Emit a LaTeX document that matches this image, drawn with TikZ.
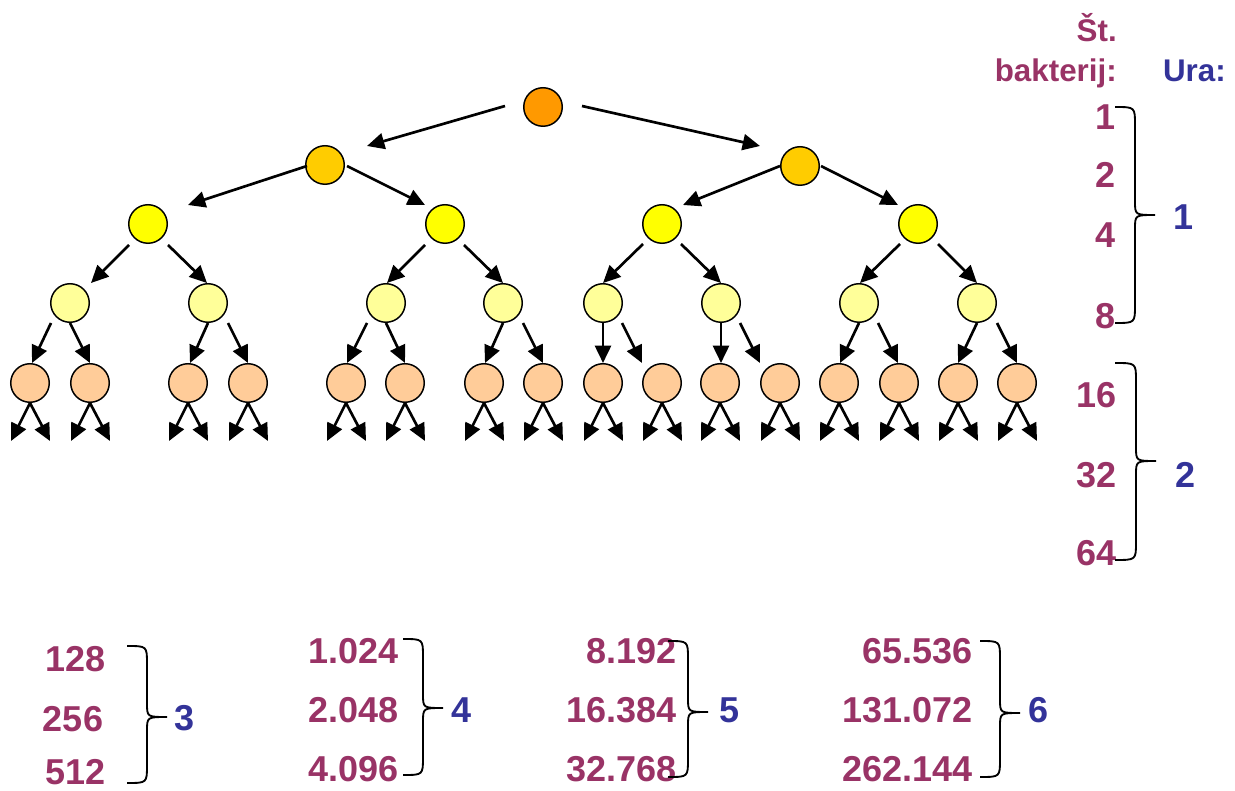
\documentclass[tikz,border=0pt]{standalone}
\usepackage{fontspec}
\setmainfont{Liberation Sans}
\usetikzlibrary{arrows.meta,calc}
\definecolor{numcol}{HTML}{993366}
\definecolor{hourcol}{HTML}{333399}
\definecolor{c0}{HTML}{FF9900}
\definecolor{c1}{HTML}{FFCC00}
\definecolor{c2}{HTML}{FFFF00}
\definecolor{c3}{HTML}{FFFF99}
\definecolor{c4}{HTML}{FFCC99}
% curly brace: x of ends, x of spine, x of tip, y top, y tip, y bottom
\newcommand\curlybrace[6]{%
  \draw[bracestyle] (#1,#4) .. controls (#2,#4) and (#2,#4) .. (#2,#4+18)
    -- (#2,#5-14) .. controls (#2,#5) and (#2,#5) .. (#3,#5)
    .. controls (#2,#5) and (#2,#5) .. (#2,#5+14)
    -- (#2,#6-18) .. controls (#2,#6) and (#2,#6) .. (#1,#6);}
\begin{document}
\begin{tikzpicture}[x=0.75pt,y=-0.75pt,
  cell/.style={circle,draw=black,line width=1.1pt,minimum size=28.9pt,inner sep=0pt},
  lv0/.style={cell,fill=c0}, lv1/.style={cell,fill=c1}, lv2/.style={cell,fill=c2},
  lv3/.style={cell,fill=c3}, lv4/.style={cell,fill=c4},
  arr/.style={line width=2pt,-{Triangle[length=13pt,width=12pt]}},
  bracestyle/.style={line width=1.4pt},
  num/.style={font=\fontsize{27}{30}\selectfont\bfseries,text=numcol,inner sep=0pt},
  hour/.style={font=\fontsize{27}{30}\selectfont\bfseries,text=hourcol,inner sep=0pt},
  head/.style={font=\fontsize{23.5}{26}\selectfont\bfseries,inner sep=0pt}]
\useasboundingbox (0,0) rectangle (1235,791);

% cells, generation by generation
\node[lv0] (r) at (543,107) {};
\node[lv1] (a1) at (325,165) {};
\node[lv1] (a2) at (800,166) {};
\node[lv2] (b1) at (148,224) {};
\node[lv2] (b2) at (445,224) {};
\node[lv2] (b3) at (662,224) {};
\node[lv2] (b4) at (918,224) {};
\foreach \i/\x in {1/70,2/208,3/386,4/503,5/603,6/721,7/859,8/977}
  \node[lv3] (c\i) at (\x,303) {};
\foreach \i/\x in {1/30,2/90,3/188,4/248,5/346,6/405,7/484,8/543,
                   9/603,10/662,11/720,12/780,13/839,14/899,15/958,16/1017}
  \node[lv4] (d\i) at (\x,383) {};

% divisions
\draw[arr] ($(r)+(-38,-1)$) -- ($(a1)+(42,-19)$);
\draw[arr] ($(r)+(39,-1)$) -- ($(a2)+(-40,-20)$);
\draw[arr] ($(a1)+(-18,1)$) -- ($(b1)+(40,-19)$);
\draw[arr] ($(a1)+(22,1)$) -- ($(b2)+(-20,-19)$);
\draw[arr] ($(a2)+(-20,0)$) -- ($(b3)+(21,-19)$);
\draw[arr] ($(a2)+(21,0)$) -- ($(b4)+(-20,-19)$);
\draw[arr] ($(b1)+(-19,21)$) -- ($(c1)+(21,-20)$);
\draw[arr] ($(b1)+(20,21)$) -- ($(c2)+(-1,-20)$);
\draw[arr] ($(b2)+(-20,21)$) -- ($(c3)+(1,-20)$);
\draw[arr] ($(b2)+(19,21)$) -- ($(c4)+(0,-20)$);
\draw[arr] ($(b3)+(-19,20)$) -- ($(c5)+(0,-20)$);
\draw[arr] ($(b3)+(19,20)$) -- ($(c6)+(0,-20)$);
\draw[arr] ($(b4)+(-18,20)$) -- ($(c7)+(1,-20)$);
\draw[arr] ($(b4)+(20,20)$) -- ($(c8)+(0,-20)$);

\draw[arr] ($(c1.south)+(-19,0)$) -- ($(d1.north)+(2,0)$);
\draw[arr] (c1.south) -- (d2.north);
\draw[arr] (c2.south) -- ($(d3.north)+(2,0)$);
\draw[arr] ($(c2.south)+(20,0)$) -- (d4.north);
\draw[arr] ($(c3.south)+(-19,0)$) -- ($(d5.north)+(1,0)$);
\draw[arr] (c3.south) -- (d6.north);
\draw[arr] (c4.south) -- ($(d7.north)+(1,0)$);
\draw[arr] ($(c4.south)+(20,0)$) -- (d8.north);
\draw[arr] (c5.south) -- (d9.north);
\draw[arr] ($(c5.south)+(19,0)$) -- ($(d10.north)+(-20,0)$);
\draw[arr] (c6.south) -- ($(d11.north)+(1,0)$);
\draw[arr] ($(c6.south)+(19,0)$) -- ($(d12.north)+(-20,0)$);
\draw[arr] (c7.south) -- ($(d13.north)+(1,0)$);
\draw[arr] ($(c7.south)+(19,0)$) -- ($(d14.north)+(-1,0)$);
\draw[arr] (c8.south) -- (d15.north);
\draw[arr] ($(c8.south)+(20,0)$) -- (d16.north);

\foreach \i in {1,...,16} {
  \draw[arr] (d\i.south) -- ++(-19,38);
  \draw[arr] (d\i.south) -- ++(20,38);
}

% column headings
\node[head,text=numcol,anchor=base east] (hst) at (1117,42) {Št.};
\node[head,text=numcol,anchor=base east] (hbak) at (1117,82) {bakterij:};
\node[head,text=hourcol,anchor=base east] (hura) at (1226,82) {Ura:};

% hour 1
\node[num,anchor=base east] (n1) at (1116,130) {1};
\node[num,anchor=base east] (n2) at (1116,188) {2};
\node[num,anchor=base east] (n4) at (1116,248) {4};
\node[num,anchor=base east] (n8) at (1116,329) {8};
\curlybrace{1115}{1135}{1155}{107}{215}{323}
\node[hour,anchor=base] (h1) at (1183,230) {1};

% hour 2
\node[num,anchor=base east] (n16) at (1117,407) {16};
\node[num,anchor=base east] (n32) at (1117,487) {32};
\node[num,anchor=base east] (n64) at (1117,565) {64};
\curlybrace{1115}{1136}{1156}{363}{461}{560}
\node[hour,anchor=base] (h2) at (1185,487) {2};

% hour 3
\node[num,anchor=base] (n128) at (76,671) {128};
\node[num,anchor=base] (n256) at (73,731) {256};
\node[num,anchor=base] (n512) at (76,784) {512};
\curlybrace{127}{147}{167}{646}{717}{783}
\node[hour,anchor=base] (h3) at (185,730) {3};

% hour 4
\node[num,anchor=base east] (n1024) at (399,663) {1.024};
\node[num,anchor=base east] (n2048) at (399,722) {2.048};
\node[num,anchor=base east] (n4096) at (399,781) {4.096};
\curlybrace{403}{423}{443}{639}{708}{775}
\node[hour,anchor=base] (h4) at (462,722) {4};

% hour 5
\node[num,anchor=base east] (n8192) at (677,663) {8.192};
\node[num,anchor=base east] (n16384) at (677,722) {16.384};
\node[num,anchor=base east] (n32768) at (677,781) {32.768};
\curlybrace{668}{688}{708}{641}{712}{777}
\node[hour,anchor=base] (h5) at (730,722) {5};

% hour 6
\node[num,anchor=base east] (n65536) at (973,663) {65.536};
\node[num,anchor=base east] (n131072) at (973,722) {131.072};
\node[num,anchor=base east] (n262144) at (973,781) {262.144};
\curlybrace{980}{1000}{1020}{641}{713}{777}
\node[hour,anchor=base] (h6) at (1038,722) {6};
\end{tikzpicture}
\end{document}
